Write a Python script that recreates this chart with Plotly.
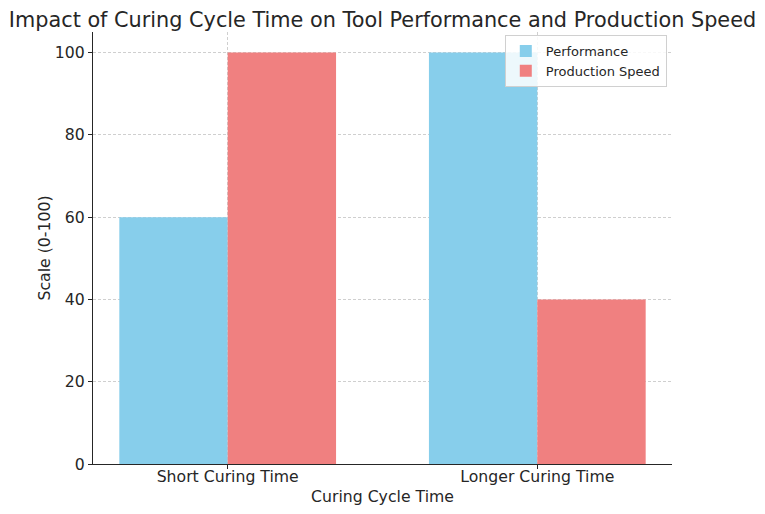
import plotly.graph_objects as go

categories = ["Short Curing Time", "Longer Curing Time"]
performance = [60, 100]
production_speed = [100, 40]

fig = go.Figure()
fig.add_trace(go.Bar(x=categories, y=performance, name="Performance",
                     marker=dict(color="#87CEEB", line=dict(width=0))))
fig.add_trace(go.Bar(x=categories, y=production_speed, name="Production Speed",
                     marker=dict(color="#F08080", line=dict(width=0))))

font_family = "DejaVu Sans, sans-serif"
fig.update_layout(
    width=749, height=498,
    margin=dict(l=85, r=85, t=24, b=42),
    paper_bgcolor="white", plot_bgcolor="white",
    barmode="group", bargap=0.3, bargroupgap=0,
    font=dict(family=font_family, color="#262626", size=15.7),
    title=dict(text="Impact of Curing Cycle Time on Tool Performance and Production Speed",
               x=0.5, xanchor="center", y=0.976, yanchor="middle",
               font=dict(size=20.8, color="#262626")),
    legend=dict(x=0.991, y=0.993, xanchor="right", yanchor="top",
                bgcolor="rgba(255,255,255,0.85)", bordercolor="#d0d0d0", borderwidth=1,
                font=dict(size=13), tracegroupgap=0, itemwidth=30),
    xaxis=dict(range=[-0.435, 1.435], showline=True, linecolor="#262626", linewidth=1.2,
               ticks="outside", ticklen=4, tickcolor="#262626",
               ticklabelstandoff=-6, automargin=False,
               showgrid=True, gridcolor="#cfcfcf", griddash="3px,2px", gridwidth=0.8,
               title=dict(text="Curing Cycle Time", font=dict(size=15.7), standoff=6),
               tickfont=dict(size=15.7)),
    yaxis=dict(range=[0, 105], showline=True, linecolor="#262626", linewidth=1.2,
               ticks="outside", ticklen=4, tickcolor="#262626",
               tickvals=[0, 20, 40, 60, 80, 100], automargin=False,
               showgrid=True, gridcolor="#cfcfcf", griddash="3px,2px", gridwidth=0.8,
               zeroline=False,
               title=dict(text="Scale (0-100)", font=dict(size=15.7), standoff=0),
               tickfont=dict(size=15.7)),
)

fig.write_html("out.html")
